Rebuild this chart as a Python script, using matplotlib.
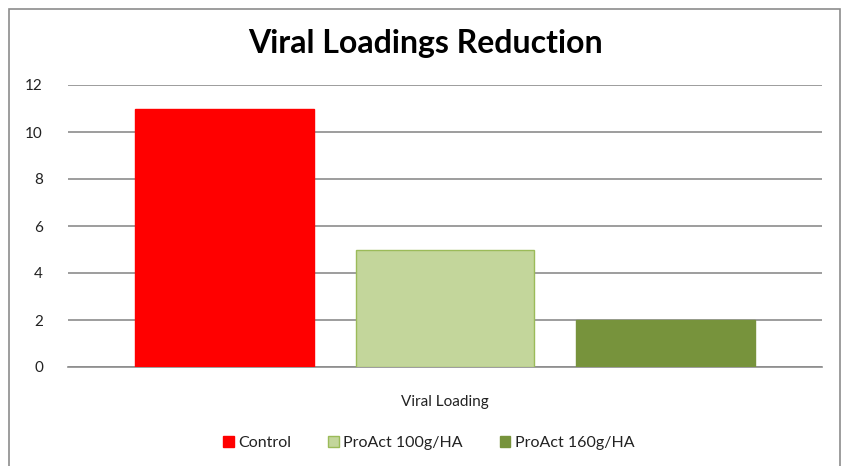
import matplotlib.pyplot as plt
from matplotlib.patches import Rectangle

series = ['Control', 'ProAct 100g/HA', 'ProAct 160g/HA']
values = [11, 5, 2]
category = 'Viral Loading'
colors = ['#FF0000', '#C3D69B', '#77933C']
edges = ['#FF0000', '#9BBB59', '#77933C']

plt.rcParams['font.family'] = ['Lato', 'DejaVu Sans']

W, H = 843, 466
fig = plt.figure(figsize=(W / 100, H / 100), dpi=100)
fig.patches.append(Rectangle((9 / W, -0.01), (840 - 9) / W, 1 - 9 / H + 0.01,
                             transform=fig.transFigure, fill=False,
                             edgecolor='#8c8c8c', linewidth=1.2))

ax = fig.add_axes([68 / W, 1 - 367 / H, (822 - 68) / W, (367 - 85) / H])
xs = range(len(values))
for i in xs:
    ax.bar(i, values[i], width=0.81, color=colors[i], edgecolor=edges[i],
           linewidth=1, label=series[i], zorder=3)

ax.set_xlim(-0.709, 2.709)
ax.set_ylim(0, 12)
ax.set_yticks(range(0, 13, 2))
ax.yaxis.grid(True, color='#8c8c8c', linewidth=1.2, zorder=0)
for s in ['top', 'right', 'left']:
    ax.spines[s].set_visible(False)
ax.spines['bottom'].set_color('#8c8c8c')
ax.spines['bottom'].set_linewidth(1.2)
ax.tick_params(axis='y', length=0, pad=18, labelsize=11, labelcolor='#222222')
ax.set_xticks([1])
ax.set_xticklabels([category], fontsize=11, color='#222222')
ax.tick_params(axis='x', length=0, pad=20)

fig.text(425 / W, 1 - 43 / H, 'Viral Loadings Reduction', ha='center', va='center',
         fontsize=23, fontweight='bold')

fig.legend(loc='center', bbox_to_anchor=(429 / W, 1 - 443 / H), ncol=3, frameon=False,
           fontsize=11.5, handlelength=0.65, handleheight=0.65, handletextpad=0.3,
           columnspacing=2.3, labelcolor='#222222')

fig.savefig('out.png', dpi=100)
